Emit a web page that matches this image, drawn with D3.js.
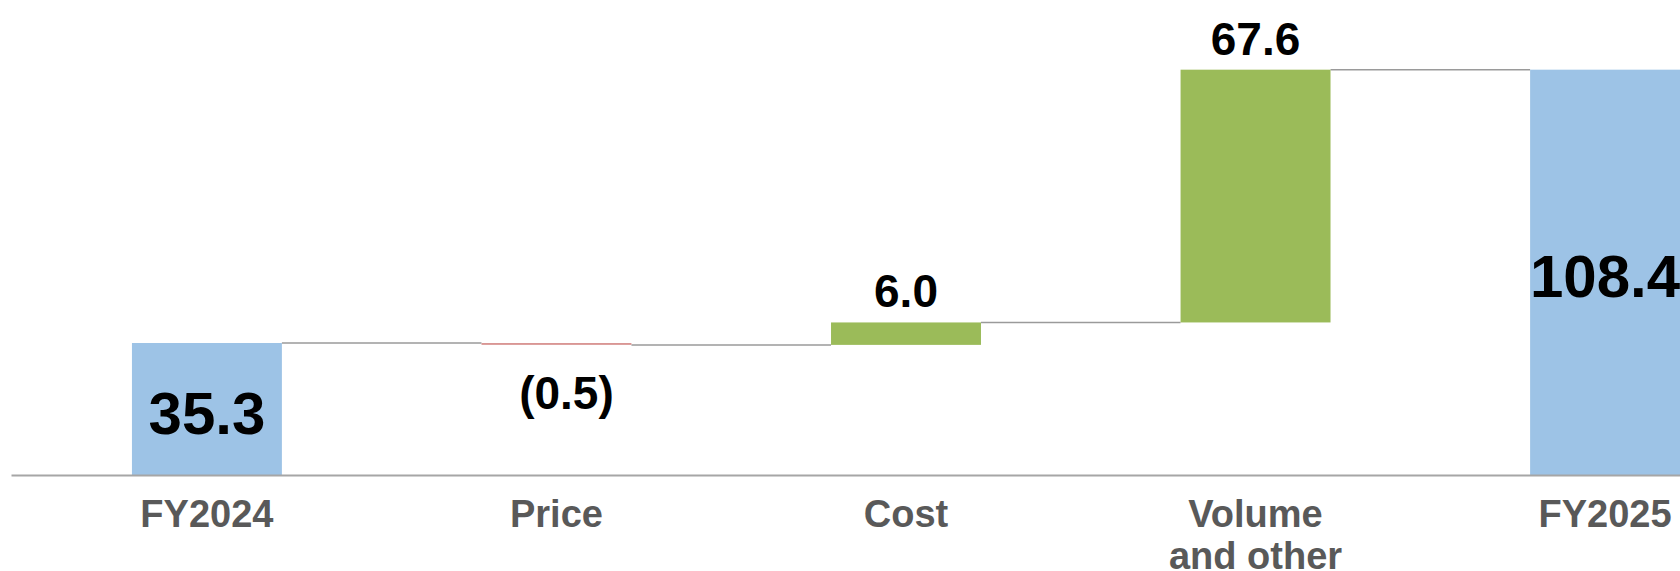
<!DOCTYPE html>
<html>
<head>
<meta charset="utf-8">
<script src="https://cdn.jsdelivr.net/npm/d3@7"></script>
<style>
  html, body { margin: 0; padding: 0; background: #fff; }
  svg { display: block; font-family: "Liberation Sans", Arial, sans-serif; font-weight: bold; }
</style>
</head>
<body>
<svg id="chart" width="1680" height="571"></svg>
<script>
// bridge from FY2024 to FY2025
const categories = ["FY2024", "Price", "Cost", "Volume\nand other", "FY2025"];
const values = [35.3, -0.5, 6.0, 67.6, 108.4];
const kinds = ["total", "delta", "delta", "delta", "total"];
const valueLabels = ["35.3", "(0.5)", "6.0", "67.6", "108.4"];

const W = 1680, H = 571;
const svg = d3.select("#chart");

let x = d3.scaleBand()
    .domain(categories)
    .range([11, 1801])
    .paddingInner(0.571)
    .paddingOuter(0.346);

let y = d3.scaleLinear()
    .domain([0, 115])
    .range([475, 45]);

// running totals -> start/end of each bar
let running = 0;
let bars = categories.map(function(c, i) {
  let start, end;
  if (kinds[i] === "total") { start = 0; end = values[i]; running = values[i]; }
  else { start = running; end = running + values[i]; running = end; }
  return { cat: c, start: start, end: end, value: values[i], kind: kinds[i], label: valueLabels[i] };
});

function barColor(d) {
  if (d.kind === "total") return "#9dc3e6";
  return d.value < 0 ? "#d99694" : "#9bbb59";
}

// connectors
let links = bars.slice(0, -1).map(function(d, i) { return { a: d, b: bars[i + 1] }; });
svg.append("g").selectAll("line")
    .data(links).enter().append("line")
    .attr("x1", function(d) { return x(d.a.cat) + x.bandwidth(); })
    .attr("x2", function(d) { return x(d.b.cat); })
    .attr("y1", function(d) { return y(d.a.end); })
    .attr("y2", function(d) { return y(d.a.end); })
    .attr("stroke", "#9a9a9a")
    .attr("stroke-width", 1.5);

svg.append("g").selectAll("rect")
    .data(bars).enter().append("rect")
    .attr("x", function(d) { return x(d.cat); })
    .attr("width", x.bandwidth())
    .attr("y", function(d) { return y(Math.max(d.start, d.end)); })
    .attr("height", function(d) { return Math.abs(y(d.start) - y(d.end)); })
    .attr("fill", barColor);

// axis
let xAxis = svg.append("g")
    .attr("transform", "translate(0," + y(0) + ")")
    .call(d3.axisBottom(x).tickSize(0).tickPadding(0));
xAxis.select(".domain").attr("stroke", "#a6a6a6").attr("stroke-width", 2);
xAxis.selectAll(".tick text").remove();
xAxis.selectAll(".tick").append("text")
    .attr("fill", "#595959")
    .attr("font-size", 38)
    .attr("text-anchor", "middle")
    .each(function(d) {
      let t = d3.select(this);
      d.split("\n").forEach(function(line, k) {
        t.append("tspan").attr("x", 0).attr("y", 52 + k * 42).text(line);
      });
    });

// value labels
svg.append("g").selectAll("text")
    .data(bars).enter().append("text")
    .attr("text-anchor", "middle")
    .attr("fill", "#000")
    .attr("font-size", function(d) { return d.kind === "total" ? 60 : 46; })
    .attr("x", function(d) {
      return x(d.cat) + x.bandwidth() / 2 + (d.kind !== "total" && d.value < 0 ? 10 : 0);
    })
    .attr("y", function(d) {
      if (d.kind === "total") return (y(0) + y(d.end)) / 2 + 25;
      if (d.value < 0) return y(Math.min(d.start, d.end)) + 64;
      return y(d.end) - 15;
    })
    .text(function(d) { return d.label; });
</script>
</body>
</html>
